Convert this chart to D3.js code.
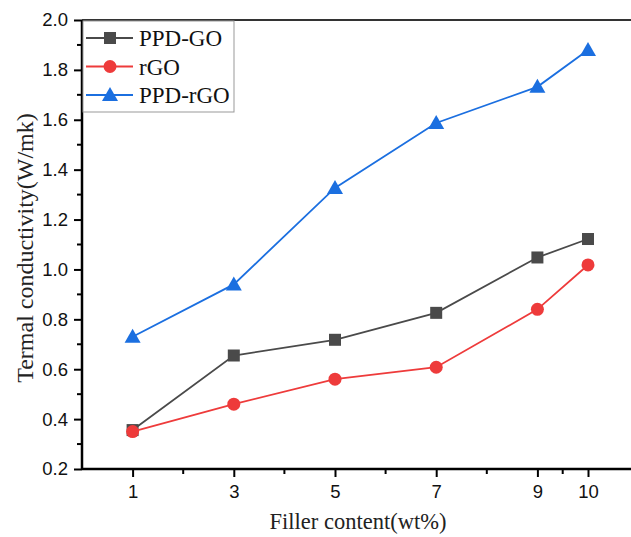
<!DOCTYPE html>
<html>
<head>
<meta charset="utf-8">
<script src="https://cdn.jsdelivr.net/npm/d3@7"></script>
<style>
  body { margin: 0; background: #fff; }
  svg { display: block; }
</style>
</head>
<body>
<script>
// filler content (wt%)
const filler = [1, 3, 5, 7, 9, 10];
const ppdGO = [0.356, 0.655, 0.718, 0.826, 1.048, 1.122];
const rGO = [0.35, 0.46, 0.56, 0.608, 0.84, 1.018];
const ppdRGO = [0.73, 0.94, 1.327, 1.587, 1.732, 1.88];
const yTicks = [0.2, 0.4, 0.6, 0.8, 1.0, 1.2, 1.4, 1.6, 1.8, 2.0];
const xMinor = [2, 4, 6, 8, 9.5];

const series = [
  {name: "PPD-GO", values: ppdGO, color: "#4a4a4a", shape: "square"},
  {name: "rGO", values: rGO, color: "#ee3b3b", shape: "circle"},
  {name: "PPD-rGO", values: ppdRGO, color: "#1b6fe0", shape: "triangle"}
];

const W = 631, H = 537;
const svg = d3.select("body").append("svg")
  .attr("width", W).attr("height", H);

const x = d3.scaleLinear().domain([0, 11]).range([82, 82 + 11 * 50.6]);
const y = d3.scaleLinear().domain([0.2, 2.0]).range([469, 20]);

// top frame line
svg.append("line")
  .attr("x1", x(0)).attr("x2", W)
  .attr("y1", y(2.0)).attr("y2", y(2.0))
  .attr("stroke", "#333").attr("stroke-width", 2);

// x axis
const xAxis = svg.append("g")
  .attr("transform", "translate(0," + y(0.2) + ")")
  .call(d3.axisBottom(x).tickValues(filler).tickSize(8).tickPadding(8).tickFormat(d3.format("d")));
xAxis.select(".domain").attr("d", "M" + x(0) + ",0H" + W).attr("stroke-width", 2.5);
xAxis.selectAll(".tick line").attr("stroke-width", 2);
xAxis.selectAll(".tick text")
  .attr("font-family", "'Liberation Sans', Arial, sans-serif")
  .attr("font-size", 18.5).attr("fill", "#111");
xAxis.selectAll(".minor").data(xMinor).enter().append("line")
  .attr("x1", d => x(d)).attr("x2", d => x(d))
  .attr("y1", 0).attr("y2", 5)
  .attr("stroke", "#000").attr("stroke-width", 2);

// y axis
const yAxis = svg.append("g")
  .attr("transform", "translate(" + x(0) + ",0)")
  .call(d3.axisLeft(y).tickValues(yTicks).tickSize(8).tickPadding(6).tickFormat(d3.format(".1f")));
yAxis.select(".domain").attr("d", "M0," + y(0.2) + "V" + y(2.0)).attr("stroke-width", 2.5);
yAxis.selectAll(".tick line").attr("stroke-width", 2);
yAxis.selectAll(".tick text")
  .attr("font-family", "'Liberation Sans', Arial, sans-serif")
  .attr("font-size", 18.5).attr("fill", "#111");
yAxis.selectAll(".minor").data(d3.range(0.3, 2.0, 0.2)).enter().append("line")
  .attr("x1", 0).attr("x2", -5)
  .attr("y1", d => y(d)).attr("y2", d => y(d))
  .attr("stroke", "#000").attr("stroke-width", 2);

// axis titles
svg.append("text")
  .attr("x", 358).attr("y", 529)
  .attr("text-anchor", "middle")
  .attr("font-family", "'Liberation Serif', 'Times New Roman', serif")
  .attr("font-size", 22.5).attr("fill", "#222")
  .text("Filler content(wt%)");
svg.append("text")
  .attr("transform", "translate(33,248) rotate(-90)")
  .attr("text-anchor", "middle")
  .attr("font-family", "'Liberation Serif', 'Times New Roman', serif")
  .attr("font-size", 24).attr("fill", "#222")
  .text("Termal conductivity(W/mk)");

function marker(g, shape, color) {
  if (shape === "square") {
    g.append("rect").attr("x", -6).attr("y", -6).attr("width", 12).attr("height", 12).attr("fill", color);
  } else if (shape === "circle") {
    g.append("circle").attr("r", 6.5).attr("fill", color);
  } else {
    g.append("path").attr("d", "M0,-8L8,6L-8,6Z").attr("fill", color);
  }
}

const line = d3.line().x(d => x(d[0])).y(d => y(d[1]));

series.forEach(s => {
  const pts = filler.map((f, i) => [f, s.values[i]]);
  svg.append("path")
    .datum(pts)
    .attr("d", line)
    .attr("fill", "none")
    .attr("stroke", s.color)
    .attr("stroke-width", 1.8);
  pts.forEach(p => {
    const g = svg.append("g").attr("transform", "translate(" + x(p[0]) + "," + y(p[1]) + ")");
    marker(g, s.shape, s.color);
  });
});

// legend
const legend = svg.append("g");
legend.append("rect")
  .attr("x", x(0) + 1).attr("y", y(2.0) + 1)
  .attr("width", 151).attr("height", 91)
  .attr("fill", "#fff").attr("stroke", "#999").attr("stroke-width", 1);
series.forEach((s, i) => {
  const ly = 38 + i * 28.5;
  legend.append("line")
    .attr("x1", 86).attr("x2", 133).attr("y1", ly).attr("y2", ly)
    .attr("stroke", s.color).attr("stroke-width", 1.8);
  const g = legend.append("g").attr("transform", "translate(110," + ly + ")");
  marker(g, s.shape, s.color);
  legend.append("text")
    .attr("x", 139).attr("y", ly + 8)
    .attr("font-family", "'Liberation Serif', 'Times New Roman', serif")
    .attr("font-size", 23).attr("fill", "#111")
    .text(s.name);
});
</script>
</body>
</html>
